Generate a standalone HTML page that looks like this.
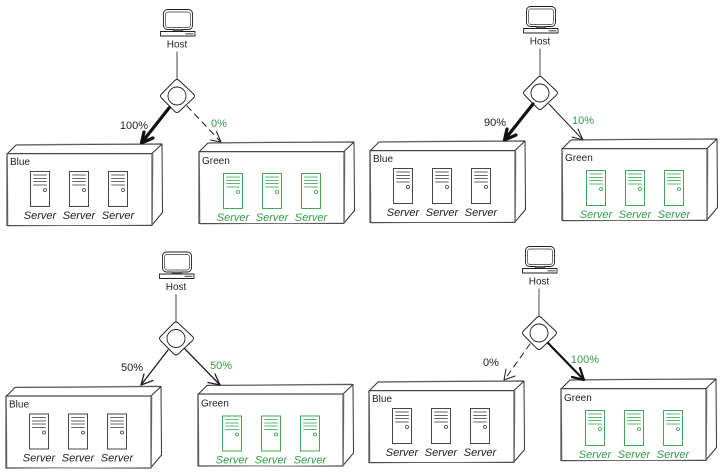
<!DOCTYPE html>
<html>
<head>
<meta charset="utf-8">
<style>
html,body{margin:0;padding:0;background:#fff;width:724px;height:474px;overflow:hidden}
svg{display:block}
text{font-family:"Liberation Sans",sans-serif;font-size:11px;text-anchor:middle;fill:#1e1e1e}
text.g{fill:#2f9e44}
text.i{font-style:italic}
text.n{font-size:10px}
text.l{text-anchor:start;font-size:10px}
.s{fill:none;stroke:#1e1e1e;stroke-width:1;stroke-linecap:round;stroke-linejoin:round}
.t{fill:none;stroke:#111;stroke-width:3.2;stroke-linecap:round;stroke-linejoin:round}
.d{stroke-dasharray:6 5}
</style>
</head>
<body>
<svg width="724" height="474" viewBox="0 0 724 474" xmlns="http://www.w3.org/2000/svg">
<defs>
  <g id="host" fill="none" stroke="#1e1e1e" stroke-width=".9" stroke-linejoin="round" stroke-linecap="round">
    <rect x="163.500" y="9.500" width="29" height="20" rx="4"/>
    <rect x="165.500" y="12" width="25" height="15.500" rx="2.500" stroke="#666"/>
    <path d="M174 29.500h8l1 1.500h-10z" fill="#777" stroke="#555"/>
    <rect x="160.500" y="31.500" width="34.500" height="4.500"/>
    <path d="M186 33.800h7" stroke="#555" stroke-width="1.200"/>
    <path d="M177 52V79" stroke="#333"/>
    <path d="M174.800 80.500Q177 78.500 179.200 80.500L193.500 94Q195.500 96 193.500 98L179.200 111.500Q177 113.500 174.800 111.500L161.500 98Q159.500 96 161.500 94Z" fill="#fff"/>
    <circle cx="177" cy="96" r="9"/>
  </g>
  <g id="box" fill="none" stroke-linejoin="round" stroke-linecap="round">
    <path d="M7.500 153.500 16 145 162 144 152 153.500ZM152 153.500 152 225 162.500 212.500 162 144" stroke="#333" stroke-width="1"/>
    <path d="M7 153.500H152M7 153.500V225.500H152" stroke="#222" stroke-width="1"/>
    <path d="M8 154H151.500M7.500 154 8 225M17 144.500 161 143.500M153 154 152.500 224M8 226 152 225" stroke="#888" stroke-width=".7"/>
  </g>
  <g id="srv" fill="none" stroke-linecap="round">
    <rect x=".5" y=".5" width="19" height="35" stroke-width=".9"/>
    <path d="M3.500 4H16.500M3.500 7.500H16.500M3.500 10.500H16.500M3.500 14H16.500" stroke-width=".8"/>
    <circle cx="15" cy="19" r="1.500" stroke-width=".8"/>
  </g>
</defs>

<!-- Panel 1 -->
<g>
  <use href="#host"/>
  <text class="n" x="177" y="47.500">Host</text>
  <use href="#box"/>
  <use href="#box" x="192" y="-2"/>
  <text class="l" x="10" y="165">Blue</text>
  <text class="l" x="202" y="164">Green</text>
  <g stroke="#333"><use href="#srv" x="30" y="171"/><use href="#srv" x="69" y="171"/><use href="#srv" x="108" y="171"/></g>
  <g stroke="#2f9e44"><use href="#srv" x="223" y="173"/><use href="#srv" x="262" y="173"/><use href="#srv" x="301" y="173"/></g>
  <text class="i" x="40" y="219">Server</text><text class="i" x="79" y="219">Server</text><text class="i" x="118" y="219">Server</text>
  <text class="i g" x="233" y="221">Server</text><text class="i g" x="272" y="221">Server</text><text class="i g" x="311" y="221">Server</text>
  <path class="t" d="M169 108 143 141M141.500 143 144 132M141.500 143 153 138"/>
  <path class="s d" d="M187 106 220 141"/><path class="s" d="M221 142 216.500 131.500M221 142 210.500 140"/>
  <text x="134" y="129">100%</text>
  <text class="g" x="219" y="127">0%</text>
</g>

<!-- Panel 2 -->
<g transform="translate(363,-3)">
  <use href="#host"/>
  <text class="n" x="177" y="47.500">Host</text>
  <use href="#box"/>
  <use href="#box" x="192" y="-2"/>
  <text class="l" x="10" y="165">Blue</text>
  <text class="l" x="202" y="164">Green</text>
  <g stroke="#333"><use href="#srv" x="30" y="171"/><use href="#srv" x="69" y="171"/><use href="#srv" x="108" y="171"/></g>
  <g stroke="#2f9e44"><use href="#srv" x="223" y="173"/><use href="#srv" x="262" y="173"/><use href="#srv" x="301" y="173"/></g>
  <text class="i" x="40" y="219">Server</text><text class="i" x="79" y="219">Server</text><text class="i" x="118" y="219">Server</text>
  <text class="i g" x="233" y="221">Server</text><text class="i g" x="272" y="221">Server</text><text class="i g" x="311" y="221">Server</text>
  <path class="t" d="M170 107 143 141M141.500 143 144 132M141.500 143 153 138"/>
  <path class="s" d="M186 107 220 143M220 143 215 132M220 143 209 140"/>
  <text x="132" y="129">90%</text>
  <text class="g" x="220" y="127">10%</text>
</g>

<!-- Panel 3 -->
<g transform="translate(-1,242.500)">
  <use href="#host"/>
  <text class="n" x="177" y="47.500">Host</text>
  <use href="#box"/>
  <use href="#box" x="192" y="-2"/>
  <text class="l" x="10" y="165">Blue</text>
  <text class="l" x="202" y="164">Green</text>
  <g stroke="#333"><use href="#srv" x="30" y="171"/><use href="#srv" x="69" y="171"/><use href="#srv" x="108" y="171"/></g>
  <g stroke="#2f9e44"><use href="#srv" x="223" y="173"/><use href="#srv" x="262" y="173"/><use href="#srv" x="301" y="173"/></g>
  <text class="i" x="40" y="219">Server</text><text class="i" x="79" y="219">Server</text><text class="i" x="118" y="219">Server</text>
  <text class="i g" x="233" y="221">Server</text><text class="i g" x="272" y="221">Server</text><text class="i g" x="311" y="221">Server</text>
  <path class="s" style="stroke-width:1.300" d="M169 107.500 142 142.500M142 142.500 145 131.500M142 142.500 154 138"/>
  <path class="s" style="stroke-width:1.300" d="M186 106.500 221 142.500M221 142.500 216 131.500M221 142.500 209 140"/>
  <text x="133" y="128.500">50%</text>
  <text class="g" x="222" y="126.500">50%</text>
</g>

<!-- Panel 4 -->
<g transform="translate(362,237)">
  <use href="#host"/>
  <text class="n" x="177" y="47.500">Host</text>
  <use href="#box"/>
  <use href="#box" x="192" y="-2"/>
  <text class="l" x="10" y="165">Blue</text>
  <text class="l" x="202" y="164">Green</text>
  <g stroke="#333"><use href="#srv" x="30" y="171"/><use href="#srv" x="69" y="171"/><use href="#srv" x="108" y="171"/></g>
  <g stroke="#2f9e44"><use href="#srv" x="223" y="173"/><use href="#srv" x="262" y="173"/><use href="#srv" x="301" y="173"/></g>
  <text class="i" x="40" y="219">Server</text><text class="i" x="79" y="219">Server</text><text class="i" x="118" y="219">Server</text>
  <text class="i g" x="233" y="221">Server</text><text class="i g" x="272" y="221">Server</text><text class="i g" x="311" y="221">Server</text>
  <path class="s d" d="M168 107 143 142"/><path class="s" d="M142 143 144 132M142 143 153 139"/>
  <path class="s" style="stroke-width:2.200;stroke:#111" d="M186 106 222 143M222 143 218 131M222 143 210 140"/>
  <text x="129" y="129">0%</text>
  <text class="g" x="223" y="126">100%</text>
</g>
</svg>
</body>
</html>
